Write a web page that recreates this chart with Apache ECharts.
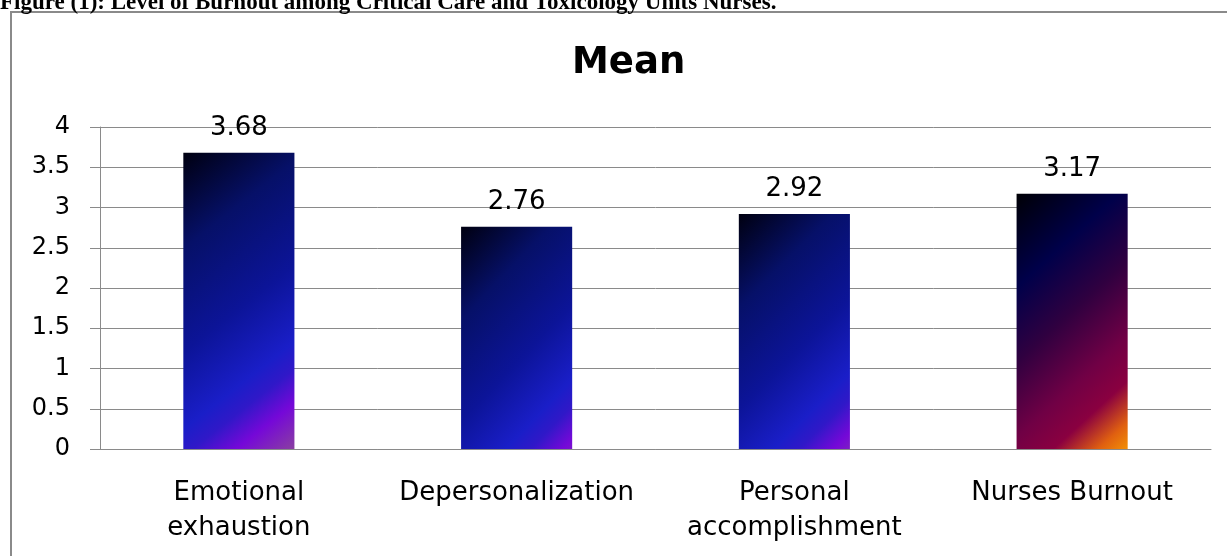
<!DOCTYPE html>
<html>
<head>
<meta charset="utf-8">
<title>Mean</title>
<script src="https://cdn.jsdelivr.net/npm/echarts@6/dist/echarts.min.js"></script>
<style>
  html, body {
    margin: 0;
    padding: 0;
    background: #fff;
  }
  #chart {
    width: 1227px;
    height: 556px;
  }
</style>
</head>
<body>
<div id="chart"></div>
<script>
// data
const categories = ['Emotional\nexhaustion', 'Depersonalization', 'Personal\naccomplishment', 'Nurses Burnout']
const means = [3.68, 2.76, 2.92, 3.17]
const barPalette = ['blue', 'blue', 'blue', 'fire']
const yTicks = [0, 0.5, 1, 1.5, 2, 2.5, 3, 3.5, 4]

// diagonal fills, top-left dark to bottom-right bright
const gradients = {
  blue: [
    { offset: 0, color: '#000010' },
    { offset: 0.25, color: '#061068' },
    { offset: 0.52, color: '#0c1498' },
    { offset: 0.72, color: '#1a1ec8' },
    { offset: 0.79, color: '#3018c8' },
    { offset: 0.88, color: '#7508d8' },
    { offset: 1, color: '#8a40a0' }
  ],
  fire: [
    { offset: 0, color: '#000005' },
    { offset: 0.25, color: '#00004a' },
    { offset: 0.45, color: '#300040' },
    { offset: 0.65, color: '#700045' },
    { offset: 0.77, color: '#8a0040' },
    { offset: 0.88, color: '#e06010' },
    { offset: 1, color: '#ffb000' }
  ]
}

const chart = echarts.init(document.getElementById('chart'))

const option = {
  backgroundColor: '#fff',
  animation: false,
  graphic: [
    {
      type: 'rect',
      shape: { x: 11, y: 12, width: 1240, height: 600 },
      style: { fill: 'none', stroke: '#8a8a8a', lineWidth: 2 },
      z: -1
    },
    {
      type: 'text',
      left: 0,
      top: -8,
      style: {
        text: 'Figure (1): Level of Burnout among Critical Care and Toxicology Units Nurses.',
        font: 'bold 23px "Liberation Serif"',
        fill: '#000'
      }
    }
  ],
  title: {
    text: 'Mean',
    left: 567,
    top: 40,
    textStyle: {
      fontFamily: 'DejaVu Sans',
      fontWeight: 'bold',
      fontSize: 37,
      color: '#000'
    }
  },
  grid: {
    left: 100,
    right: 16,
    top: 127,
    bottom: 107
  },
  xAxis: {
    type: 'category',
    data: categories,
    axisLine: { lineStyle: { color: '#8a8a8a', width: 1 } },
    axisTick: { length: 8, lineStyle: { color: '#8a8a8a' } },
    axisLabel: {
      interval: 0,
      margin: 27,
      color: '#000',
      fontFamily: 'DejaVu Sans',
      fontSize: 26,
      lineHeight: 35
    }
  },
  yAxis: {
    type: 'value',
    min: 0,
    max: 4,
    interval: 0.5,
    axisLine: { show: true, lineStyle: { color: '#8a8a8a' } },
    axisTick: { show: true, length: 10, lineStyle: { color: '#8a8a8a' } },
    splitLine: { lineStyle: { color: '#8a8a8a', width: 1 } },
    axisLabel: {
      margin: 30,
      color: '#000',
      fontFamily: 'DejaVu Sans',
      fontSize: 24,
      formatter: v => (yTicks.includes(v) ? String(v) : '')
    }
  },
  series: [
    {
      type: 'bar',
      barWidth: '40%',
      data: means.map((v, i) => ({
        value: v,
        itemStyle: {
          color: new echarts.graphic.LinearGradient(0, 0, 1.68, 0.8, gradients[barPalette[i]])
        }
      })),
      label: {
        show: true,
        position: 'top',
        distance: 12,
        color: '#000',
        fontFamily: 'DejaVu Sans',
        fontSize: 26
      }
    }
  ]
}

chart.setOption(option)
</script>
</body>
</html>
